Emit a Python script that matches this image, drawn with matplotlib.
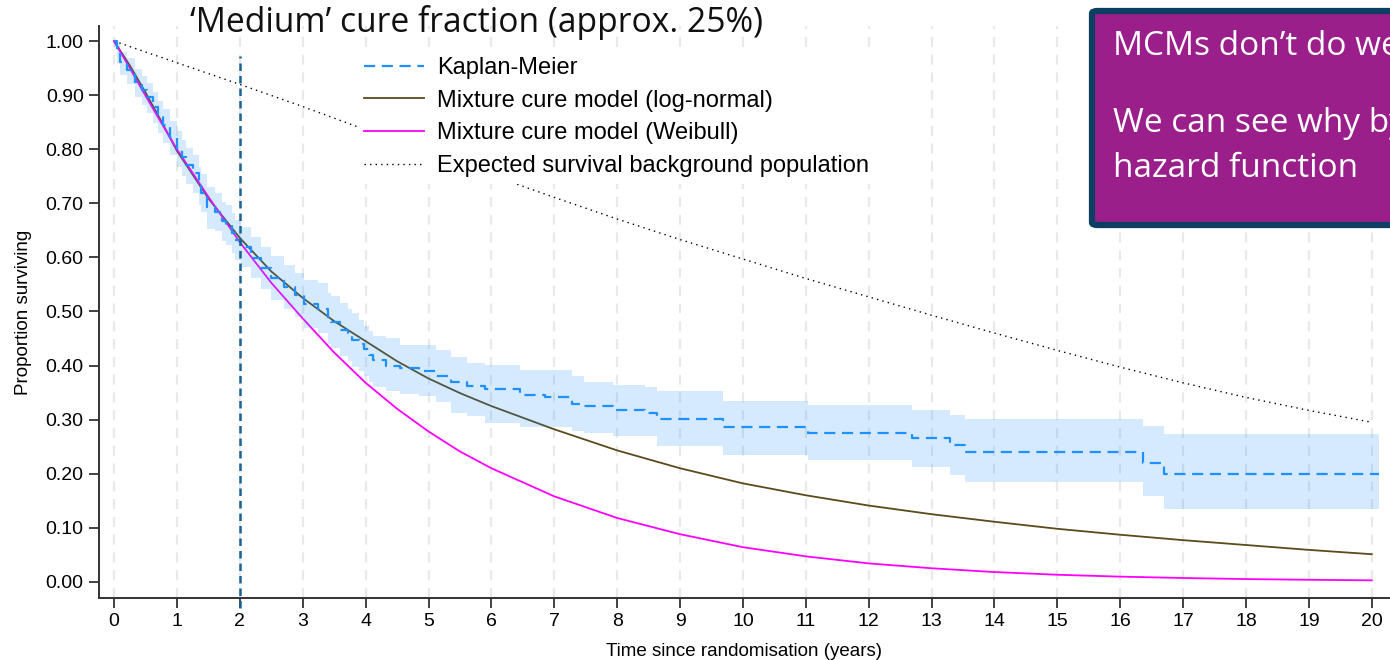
import matplotlib
matplotlib.use("Agg")
import matplotlib.pyplot as plt
from matplotlib.patches import FancyBboxPatch

# ---------------- data ----------------
# Kaplan-Meier estimate (step times, survival after each step) with 95% band
km_time = [0.00, 0.05, 0.10, 0.20, 0.34, 0.45, 0.52, 0.62, 0.70, 0.78, 0.89,
           1.00, 1.08, 1.14, 1.25, 1.35, 1.38, 1.47, 1.60, 1.72, 1.78, 1.88,
           1.93, 2.02, 2.18, 2.33, 2.50, 2.70, 2.88, 3.02, 3.25, 3.40, 3.45,
           3.60, 3.72, 3.78, 3.90, 3.97, 4.05, 4.12, 4.33, 4.55, 4.85, 5.12,
           5.35, 5.62, 5.90, 6.45, 6.85, 7.28, 7.48, 7.93, 8.45, 8.63, 9.68,
           11.03, 12.69, 13.29, 13.53, 16.36, 16.69]
km_surv = [1.000, 0.983, 0.962, 0.947, 0.924, 0.910, 0.897, 0.879, 0.862, 0.845, 0.823,
           0.802, 0.785, 0.770, 0.756, 0.733, 0.720, 0.693, 0.684, 0.667, 0.660, 0.645,
           0.632, 0.620, 0.599, 0.580, 0.562, 0.545, 0.530, 0.514, 0.505, 0.486, 0.480,
           0.466, 0.456, 0.447, 0.440, 0.430, 0.420, 0.410, 0.399, 0.395, 0.390, 0.381,
           0.369, 0.362, 0.356, 0.346, 0.341, 0.329, 0.325, 0.318, 0.312, 0.302, 0.286,
           0.276, 0.266, 0.253, 0.240, 0.2205, 0.200]
km_lower = [0.990, 0.960, 0.938, 0.921, 0.896, 0.881, 0.867, 0.848, 0.830, 0.812, 0.789,
            0.768, 0.750, 0.735, 0.720, 0.697, 0.684, 0.652, 0.648, 0.630, 0.623, 0.608,
            0.595, 0.582, 0.561, 0.541, 0.522, 0.504, 0.489, 0.470, 0.460, 0.440, 0.433,
            0.418, 0.408, 0.398, 0.390, 0.380, 0.370, 0.360, 0.352, 0.348, 0.343, 0.333,
            0.312, 0.306, 0.293, 0.287, 0.287, 0.278, 0.275, 0.269, 0.269, 0.251, 0.235,
            0.2255, 0.212, 0.198, 0.184, 0.158, 0.135]
km_upper = [1.000, 0.995, 0.980, 0.968, 0.948, 0.935, 0.922, 0.906, 0.890, 0.874, 0.853,
            0.833, 0.817, 0.803, 0.789, 0.767, 0.755, 0.730, 0.719, 0.703, 0.696, 0.682,
            0.669, 0.657, 0.637, 0.619, 0.602, 0.586, 0.571, 0.558, 0.552, 0.535, 0.528,
            0.515, 0.505, 0.497, 0.484, 0.474, 0.463, 0.455, 0.450, 0.438, 0.438, 0.429,
            0.416, 0.404, 0.401, 0.392, 0.392, 0.380, 0.370, 0.364, 0.361, 0.352, 0.335,
            0.327, 0.318, 0.309, 0.301, 0.288, 0.2735]
km_last_time = 20.12

# Fitted mixture cure models
model_time = [0, 0.25, 0.5, 0.75, 1, 1.5, 2, 2.5, 3, 3.5, 4, 4.5, 5, 5.5, 6,
              7, 8, 9, 10, 11, 12, 13, 14, 15, 16, 17, 18, 19, 20]
lognormal_surv = [1.000, 0.955, 0.905, 0.852, 0.797, 0.709, 0.636, 0.574, 0.525, 0.482,
                  0.445, 0.408, 0.376, 0.349, 0.325, 0.282, 0.243, 0.210, 0.182, 0.160,
                  0.141, 0.125, 0.111, 0.098, 0.087, 0.077, 0.068, 0.059, 0.051]
weibull_surv = [1.000, 0.950, 0.899, 0.849, 0.800, 0.712, 0.628, 0.553, 0.487, 0.424,
                0.368, 0.320, 0.278, 0.241, 0.210, 0.158, 0.118, 0.088, 0.064, 0.047,
                0.034, 0.025, 0.018, 0.013, 0.0095, 0.0070, 0.0050, 0.0037, 0.0027]

# Expected survival of the matched background population
expected_time = list(range(21))
expected_surv = [1.000, 0.960, 0.920, 0.879, 0.836, 0.794, 0.752, 0.711, 0.671, 0.633,
                 0.597, 0.561, 0.527, 0.493, 0.460, 0.428, 0.397, 0.368, 0.341, 0.317, 0.295]

landmark_year = 2
x_ticks = list(range(21))
y_ticks = [0.0, 0.1, 0.2, 0.3, 0.4, 0.5, 0.6, 0.7, 0.8, 0.9, 1.0]

title_text = "\u2018Medium\u2019 cure fraction (approx. 25%)"
box_lines = ["MCMs don\u2019t do we", "We can see why by", "hazard function"]

# ---------------- figure ----------------
plt.rcParams["font.family"] = ["Liberation Sans", "DejaVu Sans"]
W, H = 1390, 660
fig = plt.figure(figsize=(W / 100, H / 100), dpi=100)
ax = fig.add_axes([99 / W, 62 / H, 1 - 99 / W, (598 - 26) / H])

axis_col = "#333333"
for side in ("top", "right"):
    ax.spines[side].set_visible(False)
for side in ("left", "bottom"):
    ax.spines[side].set_color(axis_col)
    ax.spines[side].set_linewidth(1.4)

ax.set_xlim(-0.24, 20.29)
ax.set_ylim(-0.03, 1.028)
ax.set_xticks(x_ticks)
ax.set_yticks(y_ticks)
ax.set_yticklabels([f"{v:.2f}" for v in y_ticks])
ax.tick_params(direction="out", length=7, width=1.3, color=axis_col,
               labelsize=14, pad=4)
ax.grid(axis="x", color="#e9e9e9", linewidth=1.6, linestyle=(0, (4.5, 3.5)), zorder=0)
ax.set_axisbelow(True)

ax.set_xlabel("Time since randomisation (years)", fontsize=13.5, labelpad=9)
ax.set_ylabel("Proportion surviving", fontsize=13.5, labelpad=10)

# model curves
ln_line, = ax.plot(model_time, lognormal_surv, color="#5a4a1c", lw=1.3, zorder=2,
                   label="Mixture cure model (log-normal)")
wb_line, = ax.plot(model_time, weibull_surv, color="#ff00ff", lw=1.3, zorder=2,
                   label="Mixture cure model (Weibull)")
exp_line, = ax.plot(expected_time, expected_surv, color="black", lw=1.0,
                    linestyle=(0, (1, 3)), zorder=2,
                    label="Expected survival background population")

# Kaplan-Meier with confidence band
t_ext = km_time + [km_last_time]
ax.fill_between(t_ext, km_lower + [km_lower[-1]], km_upper + [km_upper[-1]],
                step="post", color="#1e90ff", alpha=0.18, lw=0, zorder=3)
km_line, = ax.step(t_ext, km_surv + [km_surv[-1]], where="post", color="#1e90ff",
                   lw=1.6, linestyle=(0, (5, 3)), zorder=4, label="Kaplan-Meier")

# landmark time
ax.plot([landmark_year, landmark_year], [-0.048, 0.972], color="#1a6394", lw=1.8,
        linestyle=(0, (3, 2)), zorder=4.5, clip_on=False)

leg = ax.legend(handles=[km_line, ln_line, wb_line, exp_line],
                loc="upper left", bbox_to_anchor=(357 / W, 1 - 50 / H),
                bbox_transform=fig.transFigure, fontsize=17, frameon=True,
                framealpha=1, facecolor="white", edgecolor="none",
                handlelength=2.55, handletextpad=0.55, labelspacing=0.45,
                borderpad=0.3, borderaxespad=0, fancybox=False)
leg.set_zorder(6)

# title
fig.text(190 / W, 1 - 32 / H, title_text, fontsize=24.2,
         family=["Open Sans", "DejaVu Sans"], ha="left", va="baseline", color="#111111")

# message box (runs off the right edge of the page)
box = FancyBboxPatch((1092 / W, 1 - 225 / H), 400 / W, 214 / H,
                     boxstyle="round,pad=0,rounding_size=0.004",
                     transform=fig.transFigure, facecolor="#9a1f8b",
                     edgecolor="#0d3f63", linewidth=4.5, clip_on=False, zorder=10)
fig.add_artist(box)
box_font = dict(fontsize=24, family=["Open Sans", "DejaVu Sans"], color="white",
                ha="left", va="baseline", zorder=11)
fig.text(1113 / W, 1 - 55 / H, box_lines[0], **box_font)
fig.text(1113 / W, 1 - 132 / H, box_lines[1], **box_font)
fig.text(1113 / W, 1 - 177 / H, box_lines[2], **box_font)

fig.savefig("out.png", dpi=100)
